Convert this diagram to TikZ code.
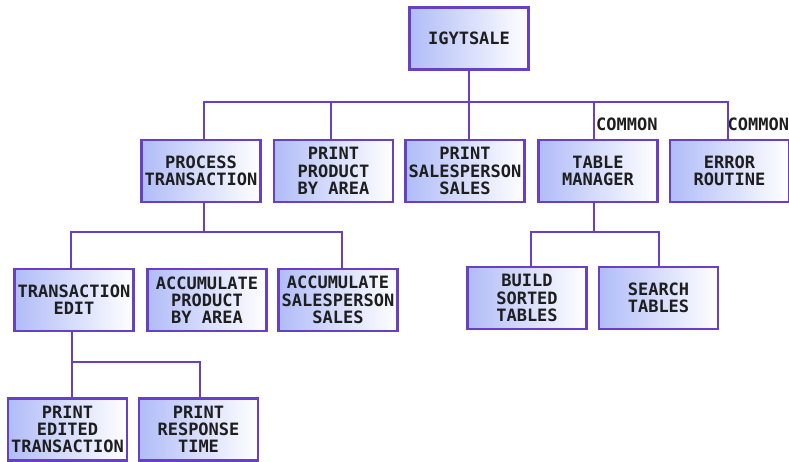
\documentclass[tikz,border=0pt]{standalone}
\usepackage{fontspec}
\newfontfamily\boxfont{DejaVu Sans Mono}
\definecolor{edge}{RGB}{104,64,200}
\definecolor{boxleft}{RGB}{176,188,248}
\definecolor{boxtext}{RGB}{30,30,30}
\tikzset{
  module/.style={draw=edge, line width=2.4pt, left color=boxleft, right color=white,
    minimum width=119pt, minimum height=62pt, inner sep=0pt, align=center,
    text=boxtext, font=\boxfont\bfseries\fontsize{17}{17.3}\selectfont},
  conn/.style={draw=edge, line width=2pt},
  tag/.style={anchor=west, inner sep=0pt, text=boxtext, font=\boxfont\bfseries\fontsize{17}{17.3}\selectfont}
}
\begin{document}
\begin{tikzpicture}[x=1pt,y=-1pt]
\useasboundingbox (0,0) rectangle (789,462);
% level 0
\node[module] (top) at (469,38.5) {IGYTSALE};
% level 1
\node[module] (proc) at (201,171) {PROCESS\\TRANSACTION};
\node[module] (ppa)  at (333.5,171) {PRINT\\PRODUCT\\BY AREA};
\node[module] (pss)  at (465,171) {PRINT\\SALESPERSON\\SALES};
\node[module] (tm)   at (598,171) {TABLE\\MANAGER};
\node[module] (err)  at (729.5,171) {ERROR\\ROUTINE};
% level 2
\node[module] (te)   at (74,300) {TRANSACTION\\EDIT};
\node[module] (apa)  at (207,300) {ACCUMULATE\\PRODUCT\\BY AREA};
\node[module] (asp)  at (338,300) {ACCUMULATE\\SALESPERSON\\SALES};
\node[module] (bst)  at (527,298) {BUILD\\SORTED\\TABLES};
\node[module] (st)   at (658.5,298) {SEARCH\\TABLES};
% level 3
\node[module] (pet)  at (67.5,429.5) {PRINT\\EDITED\\TRANSACTION};
\node[module] (prt)  at (198.5,429.5) {PRINT\\RESPONSE\\TIME};
% labels
\node[tag] (c1) at (596,124) {COMMON};
\node[tag] (c2) at (727.5,124) {COMMON};
% bus levels
\coordinate (b1) at (0,102);
\coordinate (b2) at (0,232);
\coordinate (b3) at (0,362);
% connectors level 0 -> 1
\draw[conn] (top.south) -- ([xshift=4pt]pss.north);
\draw[conn] ([xshift=3pt]proc.north) -- ([xshift=3pt]proc.north |- b1) -| ([xshift=-1.5pt]err.north);
\draw[conn] ([xshift=-2.5pt]ppa.north) -- ([xshift=-2.5pt]ppa.north |- b1);
\draw[conn] ([xshift=-4pt]tm.north) -- ([xshift=-4pt]tm.north |- b1);
% level 1 -> 2
\draw[conn] ([xshift=3pt]proc.south) -- ([xshift=3pt]proc.south |- b2);
\draw[conn] ([xshift=-3pt]te.north) -- ([xshift=-3pt]te.north |- b2) -| ([xshift=4pt]asp.north);
\draw[conn] ([xshift=-4pt]tm.south) -- ([xshift=-4pt]tm.south |- b2);
\draw[conn] ([xshift=4pt]bst.north) -- ([xshift=4pt]bst.north |- b2) -| ([xshift=0.5pt]st.north);
% level 2 -> 3
\draw[conn] ([xshift=-2pt]te.south) -- ([xshift=-2pt]te.south |- b3) -| ([xshift=1.5pt]prt.north);
\draw[conn] ([xshift=4.5pt]pet.north) -- ([xshift=4.5pt]pet.north |- b3);
\end{tikzpicture}
\end{document}
